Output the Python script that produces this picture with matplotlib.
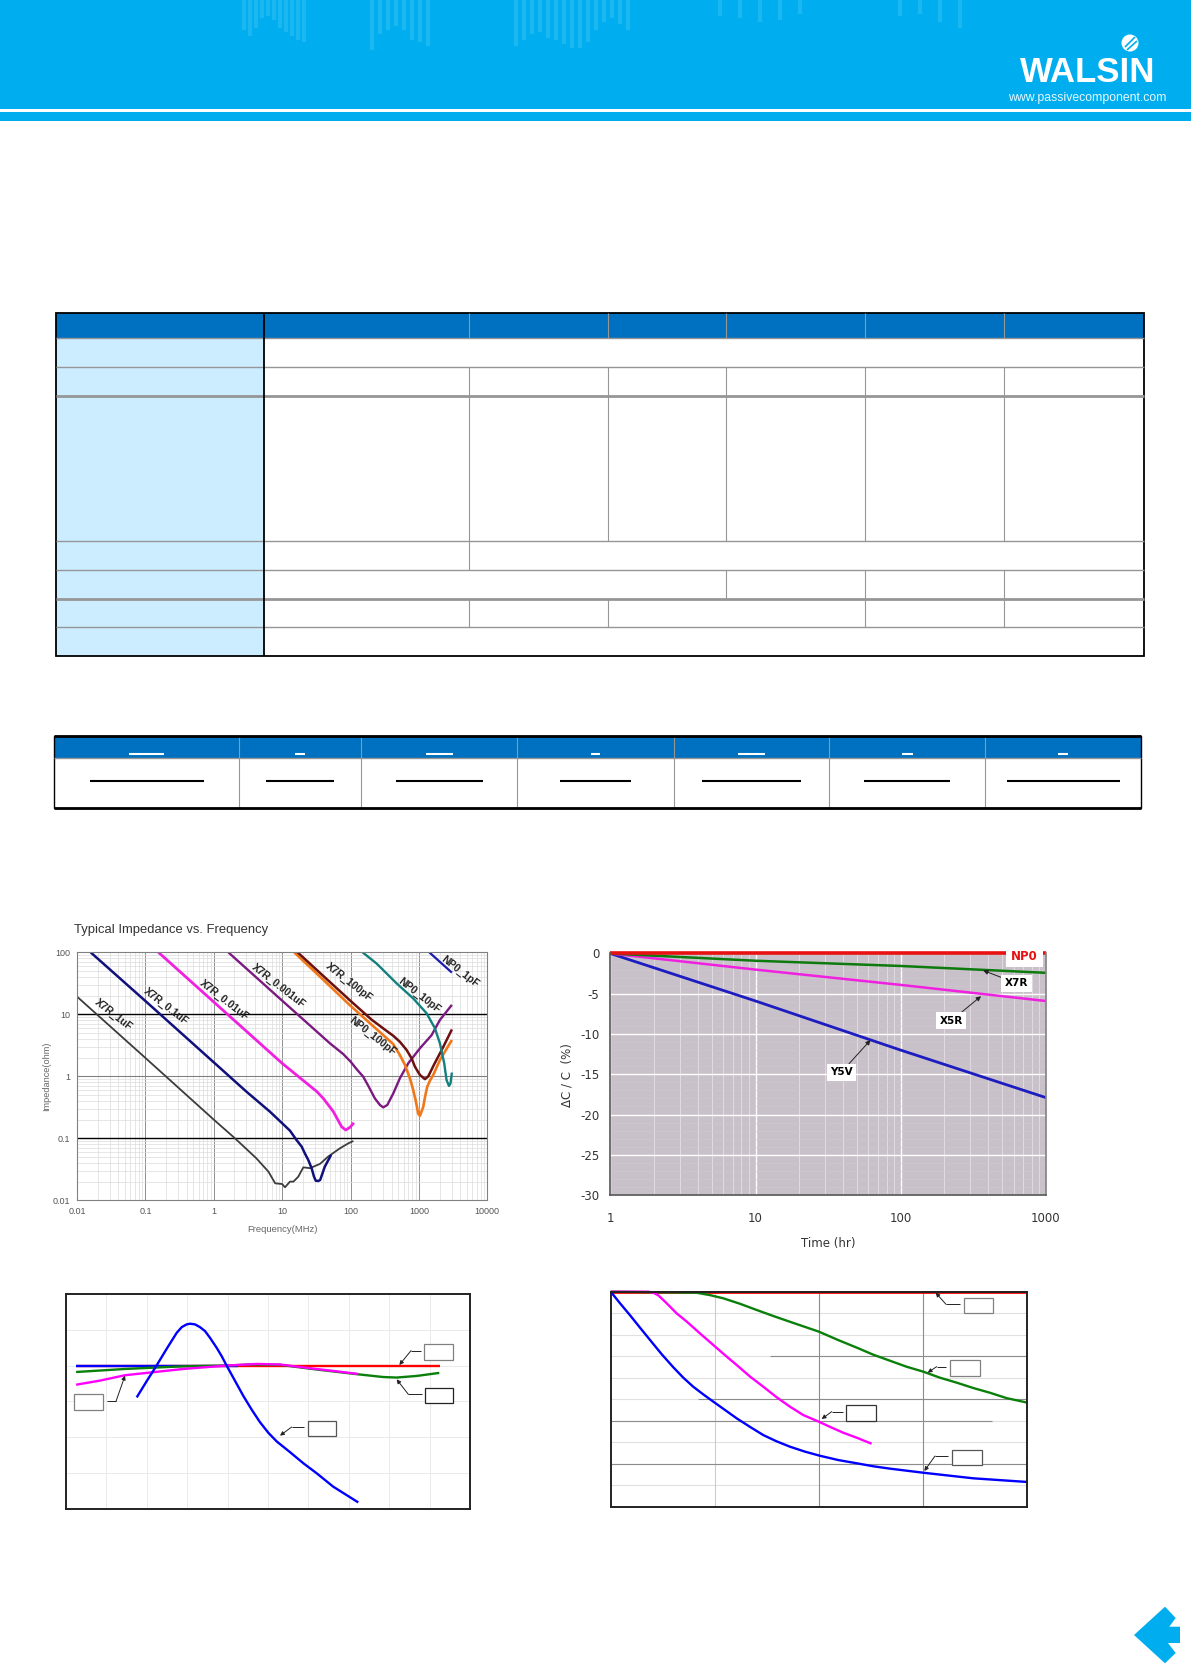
import numpy as np
import matplotlib
matplotlib.use('Agg')
import matplotlib.pyplot as plt
from matplotlib.patches import Rectangle, Polygon, Circle
from matplotlib.ticker import LogLocator, NullFormatter, FixedLocator

W, H = 1191, 1664
plt.rcParams['font.family'] = ['Liberation Sans', 'DejaVu Sans']
plt.rcParams['axes.unicode_minus'] = False
plt.rcParams['lines.solid_capstyle'] = 'butt'
plt.rcParams['lines.solid_joinstyle'] = 'round'

# === Impedance vs frequency (MHz, ohm) ===
f_1uf = [0.01, 0.1, 1.0, 2.04, 4.2, 6.3, 7.9, 10, 11, 13, 14.6, 17.2, 20.4, 25.5, 35.7, 47, 70, 93, 110]
z_1uf = [19.3, 1.98, 0.2, 0.1, 0.0475, 0.029, 0.0188, 0.0183, 0.0162, 0.02, 0.02, 0.024, 0.034, 0.033, 0.0386, 0.0506, 0.069, 0.083, 0.0906]
f_01uf = [0.0158, 0.1, 1, 3.0, 6.6, 10, 13, 16.2, 19.3, 21.5, 24.1, 27, 29.2, 31, 33.8, 36, 42, 52]
z_01uf = [100, 16.4, 1.68, 0.566, 0.27, 0.175, 0.133, 0.094, 0.0734, 0.057, 0.0447, 0.0328, 0.0241, 0.0207, 0.0205, 0.0213, 0.0348, 0.054]
f_001uf = [0.155, 1, 10, 16.2, 32, 40, 56, 74, 85, 98, 112]
z_001uf = [100, 15.8, 1.62, 1.05, 0.57, 0.44, 0.27, 0.154, 0.136, 0.15, 0.178]
f_0001uf = [1.63, 10, 50, 78, 100, 123, 153, 182, 227, 269, 301, 345, 422, 527, 698, 1035, 1530, 2028, 3035]
z_0001uf = [100, 16.6, 3.4, 2.29, 1.73, 1.3, 0.99, 0.7, 0.44, 0.345, 0.315, 0.345, 0.53, 0.93, 1.62, 2.83, 4.6, 8.1, 14.2]
f_x100p = [16.8, 40, 98, 203, 302, 422, 527, 660, 782, 874, 1035, 1225, 1371, 1656, 2218, 3035]
z_x100p = [100, 41.5, 16.8, 8.2, 5.9, 4.5, 3.6, 2.66, 1.95, 1.43, 1.05, 0.9, 1.0, 1.53, 2.83, 5.7]
f_n100p = [15, 40, 98, 203, 302, 422, 527, 624, 738, 826, 904, 977, 1035, 1156, 1235, 1324, 1450, 1620, 2028, 3035]
z_n100p = [100, 36, 14, 6.8, 4.6, 3.3, 2.2, 1.53, 0.93, 0.6, 0.39, 0.25, 0.23, 0.32, 0.48, 0.68, 0.85, 1.05, 1.83, 3.85]
f_n10p = [150, 240, 471, 826, 1294, 1714, 2028, 2344, 2537, 2748, 2900, 3035]
z_n10p = [100, 66, 31.6, 18, 10.4, 5.95, 3.4, 1.62, 0.87, 0.7, 0.77, 1.15]
f_n1p = [1416, 3035]
z_n1p = [100, 47]

imp_labels = ['X7R_1uF', 'X7R_0.1uF', 'X7R_0.01uF', 'X7R_0.001uF', 'X7R_100pF', 'NP0_100pF', 'NP0_10pF', 'NP0_1pF']
imp_label_f = [0.034, 0.2, 1.41, 8.8, 96, 208, 1011, 3980]
imp_label_z = [9.75, 13.6, 16.6, 28.6, 33, 4.47, 19.8, 48.8]
dec_ticks = [0.01, 0.1, 1, 10, 100, 1000, 10000]
dec_labels = ['0.01', '0.1', '1', '10', '100', '1000', '10000']
z_ticks = [0.01, 0.1, 1, 10, 100]
z_labels = ['0.01', '0.1', '1', '10', '100']

# === Aging (hr, %) ===
t_age = [1, 10, 100, 1000]
age_np0 = [0, 0, 0, 0]
age_x7r = [0, -0.9, -1.55, -2.4]
age_x5r = [0, -2.0, -3.9, -5.9]
age_y5v = [0, -5.9, -12.0, -17.9]
age_ticks = [0, -5, -10, -15, -20, -25, -30]

# === Temperature characteristic (unlabelled in the source) ===
tc_np0_x = [-55, 125]
tc_np0_y = [0, 0]
tc_low_x = [-55, 25]
tc_low_y = [0, 0]
tc_x7r_x = [-55, -30.8, -1.9, 19.5, 31, 46, 64, 84.7, 97, 103.7, 113.6, 124.8]
tc_x7r_y = [-3.6, -1.9, -0.4, 0, 0.6, 0.4, -2.2, -4.9, -6.4, -6.7, -5.8, -4.1]
tc_x5r_x = [-55, -43.2, -30.8, -16.8, -1.9, 19.5, 34.4, 46, 60.8, 72.3, 84.7]
tc_x5r_y = [-10.7, -8.4, -5.4, -3.7, -1.9, 0, 0.9, 0.6, -1.5, -3, -4.7]
tc_y5v_x = [-25, -20.1, -15.4, -10.2, -5.2, -2.7, -0.3, 1.4, 3.9, 6.3, 8.8, 11.3, 14.6, 17.1, 19.5, 23.7,
            27.8, 31.9, 36, 40.2, 44.3, 50.9, 57.5, 64.1, 72.3, 84.7]
tc_y5v_y = [-17.8, -8.8, -0.4, 9.3, 18.3, 21.5, 23, 23.4, 23, 21.5, 19.3, 15.5, 9.9, 5.2, 0, -8.6,
            -17, -24.6, -31.6, -37.6, -42.4, -48.4, -54.6, -60.2, -67.7, -76.5]

# === Fourth chart, log x (unlabelled in the source) ===
d_np0_x = [1, 10000]
d_np0_y = [0, 0]
d_y5v_x = [1, 1.23, 1.53, 1.91, 2.39, 3.09, 4.0, 4.98, 6.2, 7.76, 9.7, 12.5, 16.2, 21.8, 29.2, 39.2, 52.7,
           73.4, 102, 153, 230, 332, 480, 1004, 3030, 10000]
d_y5v_y = [0, -5.4, -10.9, -16.7, -22.5, -29.1, -35.2, -40, -44.2, -47.8, -51.2, -55, -58.9, -62.9, -66.7, -69.6, -72.1,
           -74.4, -76.3, -78.3, -79.8, -81.2, -82.3, -84.2, -86.8, -88.5]
d_x5r_x = [1, 2.3, 2.57, 2.87, 3.45, 4.3, 5.37, 7.2, 10.1, 12.5, 16.2, 21.8, 29.2, 39.2, 52.7, 70.8, 100, 128, 171, 230, 320]
d_x5r_y = [0, 0, -0.5, -1.7, -5.4, -10.1, -13.9, -19.4, -25.6, -29.5, -34.1, -39.5, -44.2, -49.1, -53.5, -57.4, -60.5, -62.9, -65.6, -67.9, -70.7]
d_x7r_x = [1, 6.7, 9, 12.1, 17.4, 25.2, 36.4, 52.7, 100, 153, 230, 332, 480, 694, 1004, 1450, 2097, 3030, 4380, 6330, 10000]
d_x7r_y = [0, -0.5, -1.6, -3.1, -5.6, -8.5, -11.3, -14, -18.6, -22.5, -26, -29.3, -32.1, -34.9, -37.2, -40, -42.3, -44.8, -47, -49.5, -51.6]

# header texture, read by eye
tex_x = [244, 250, 256, 262, 268, 274, 280, 286, 292, 298, 304, 372, 380, 388, 396, 404, 412, 420, 428,
         516, 524, 532, 540, 548, 556, 564, 572, 580, 588, 596, 604, 612, 620, 628, 720, 740, 760, 780, 800,
         900, 920, 940, 960]
tex_h = [30, 36, 28, 18, 16, 20, 28, 32, 36, 40, 42, 50, 34, 30, 26, 30, 40, 42, 46,
         46, 40, 34, 32, 38, 40, 44, 48, 48, 42, 30, 22, 18, 24, 30, 16, 18, 22, 20, 14,
         16, 14, 22, 28]


def axes_px(fig, l, t, r, b):
    return fig.add_axes([l / W, 1 - b / H, (r - l) / W, (b - t) / H])


fig = plt.figure(figsize=(W / 100, H / 100), dpi=100, facecolor='white')

# page overlay in pixel coordinates, for header, tables and callouts
ov = fig.add_axes([0, 0, 1, 1], zorder=5)
ov.set_xlim(0, W)
ov.set_ylim(H, 0)
ov.axis('off')

# === Header ===
ov.add_patch(Rectangle((0, 0), W, 120.5, fc='#00AEEF', ec='none'))
ov.vlines(tex_x, 0, tex_h, color='#3CC3F3', lw=3, alpha=0.45)
ov.add_patch(Rectangle((0, 108.5), W, 3.5, fc='white', ec='none'))
ov.add_patch(Circle((1130, 43), 8.5, fc='white', ec='none'))
ov.plot([1125, 1135], [47, 37], color='#00AEEF', lw=1.2)
ov.plot([1127, 1137], [50, 41], color='#00AEEF', lw=1.2)
ov.text(1087.5, 73, 'WALSIN', color='white', fontsize=25, fontweight='bold', ha='center', va='center')
ov.text(1087.5, 98.5, 'www.passivecomponent.com', color='#E8F8FF', fontsize=8.8, ha='center', va='center')

# === Spec table ===
GRAY = '#969696'
col_x = [55.7, 263.6, 468.6, 607.9, 726.4, 865, 1004.3, 1143.6]
row_y = [312.7, 338.3, 367.3, 396, 541.3, 570.3, 599, 627.3, 656.3]
ov.add_patch(Rectangle((col_x[0], row_y[0]), col_x[-1] - col_x[0], row_y[1] - row_y[0], fc='#0070C0', ec='none'))
ov.add_patch(Rectangle((col_x[0], row_y[1]), col_x[1] - col_x[0], row_y[-1] - row_y[1], fc='#CCECFF', ec='none'))
for i in range(1, 8):
    lw = 2.0 if i in (3, 6) else 1.0
    ov.plot([col_x[0], col_x[-1]], [row_y[i], row_y[i]], color=GRAY, lw=lw)
splits = [
    (0, 1, [2, 3, 4, 5, 6]),
    (2, 3, [2, 3, 4, 5, 6]),
    (3, 4, [2, 3, 4, 5, 6]),
    (4, 5, [2]),
    (5, 6, [4, 5, 6]),
    (6, 7, [2, 3, 5, 6]),
]
for r0, r1, cols in splits:
    for c in cols:
        ov.plot([col_x[c], col_x[c]], [row_y[r0], row_y[r1]], color=GRAY, lw=0.8)
ov.plot([col_x[1], col_x[1]], [row_y[0], row_y[-1]], color='black', lw=1.3)
ov.add_patch(Rectangle((col_x[0], row_y[0]), col_x[-1] - col_x[0], row_y[-1] - row_y[0], fc='none', ec='black', lw=1.3))

# === Second table ===
col2_x = [54.3, 238.6, 361.4, 517, 673.6, 829.3, 985, 1141.4]
ov.add_patch(Rectangle((col2_x[0], 735.7), col2_x[-1] - col2_x[0], 22.6, fc='#0070C0', ec='none'))
ov.plot([col2_x[0], col2_x[-1]], [758.3, 758.3], color=GRAY, lw=1.0)
for c in col2_x[1:-1]:
    ov.plot([c, c], [735.7, 807.7], color=GRAY, lw=0.8)
ov.add_patch(Rectangle((col2_x[0], 735.7), col2_x[-1] - col2_x[0], 72, fc='none', ec='black', lw=1.0))
ov.plot([col2_x[0], col2_x[-1]], [735.7, 735.7], color='black', lw=2.0)
ov.plot([col2_x[0], col2_x[-1]], [807.7, 807.7], color='black', lw=2.0)
head_bars = [(129, 164), (295, 305), (426, 453), (591, 600), (738, 765), (902, 913), (1058, 1068)]
body_bars = [(90, 204), (266, 334), (396, 483), (560, 631), (702, 801), (864, 950), (1007, 1120)]
for a, b in head_bars:
    ov.plot([a, b], [754, 754], color='white', lw=1.5)
for a, b in body_bars:
    ov.plot([a, b], [781, 781], color='black', lw=1.5)

# === Impedance chart ===
ax1 = axes_px(fig, 77, 952.3, 487.3, 1200.3)
ax1.set_xscale('log')
ax1.set_yscale('log')
ax1.set_xlim(0.01, 10000)
ax1.set_ylim(0.01, 100)
ax1.xaxis.set_minor_locator(LogLocator(base=10, subs=range(2, 10), numticks=12))
ax1.yaxis.set_minor_locator(LogLocator(base=10, subs=range(2, 10), numticks=12))
ax1.xaxis.set_minor_formatter(NullFormatter())
ax1.yaxis.set_minor_formatter(NullFormatter())
ax1.xaxis.set_major_locator(FixedLocator(dec_ticks))
ax1.yaxis.set_major_locator(FixedLocator(z_ticks))
ax1.set_xticklabels(dec_labels)
ax1.set_yticklabels(z_labels)
ax1.tick_params(which='both', length=0, labelsize=6.5, labelcolor='#555555', pad=5)
ax1.grid(which='minor', color='#DCDCDC', lw=0.5)
ax1.grid(which='major', axis='x', color='#909090', lw=0.7)
ax1.axhline(1, color='#808080', lw=0.8, zorder=1)
ax1.axhline(10, color='black', lw=1.0, zorder=1)
ax1.axhline(0.1, color='black', lw=1.0, zorder=1)
ax1.set_axisbelow(True)
for s in ax1.spines.values():
    s.set_color('#808080')
    s.set_linewidth(0.8)
ax1.plot(f_1uf, z_1uf, color='#3C3C3C', lw=1.3)
ax1.plot(f_01uf, z_01uf, color='#10107C', lw=1.8)
ax1.plot(f_001uf, z_001uf, color='#F020E0', lw=2.0)
ax1.plot(f_0001uf, z_0001uf, color='#7A1A80', lw=1.7)
ax1.plot(f_n100p, z_n100p, color='#F07818', lw=1.9)
ax1.plot(f_x100p, z_x100p, color='#6C1010', lw=1.8)
ax1.plot(f_n10p, z_n10p, color='#138080', lw=1.7)
ax1.plot(f_n1p, z_n1p, color='#1A1AB0', lw=1.6)
for lab, fx, zy in zip(imp_labels, imp_label_f, imp_label_z):
    ax1.text(fx, zy, lab, rotation=-38, rotation_mode='anchor', ha='center', va='center',
             fontsize=7.5, fontweight='bold', color='#222222', clip_on=False, zorder=6)
ax1.set_xlabel('Frequency(MHz)', fontsize=6.8, color='#666666', labelpad=6)
ax1.set_ylabel('Impedance(ohm)', fontsize=6.6, color='#666666', labelpad=1)
ov.text(74, 930, 'Typical Impedance vs. Frequency', fontsize=9.4, color='#333333', ha='left', va='center')

# === Aging chart ===
ax2 = axes_px(fig, 610.4, 953.5, 1045.8, 1195)
ax2.set_xscale('log')
ax2.set_xlim(1, 1000)
ax2.set_ylim(-30, 0)
ax2.set_facecolor('#C9C1C9')
ax2.xaxis.set_minor_locator(LogLocator(base=10, subs=range(2, 10), numticks=12))
ax2.xaxis.set_minor_formatter(NullFormatter())
ax2.xaxis.set_major_locator(FixedLocator(t_age))
ax2.set_xticklabels([str(v) for v in t_age], family='DejaVu Sans')
ax2.set_yticks(age_ticks)
ax2.set_yticklabels([str(v) for v in age_ticks], family='DejaVu Sans')
ax2.set_yticks(np.arange(-30, 0, 1), minor=True)
ax2.tick_params(which='both', length=0, labelsize=8.5, labelcolor='#333333', pad=12)
ax2.tick_params(axis='y', pad=8)
ax2.tick_params(axis='y', which='minor', labelleft=False)
ax2.grid(which='major', color='white', lw=1.0)
ax2.grid(which='minor', axis='x', color='#E6E1E6', lw=0.6)
ax2.grid(which='minor', axis='y', color='#CFC9CF', lw=0.4)
ax2.set_axisbelow(True)
ax2.spines['top'].set_visible(False)
ax2.spines['left'].set_color('#555555')
ax2.spines['bottom'].set_color('#555555')
ax2.spines['right'].set_color('#808080')
for s in ('left', 'bottom', 'right'):
    ax2.spines[s].set_linewidth(1.2)
ax2.plot(t_age, age_y5v, color='#1C1CC0', lw=2.0, clip_on=False)
ax2.plot(t_age, age_x5r, color='#F020E0', lw=1.8, clip_on=False)
ax2.plot(t_age, age_x7r, color='#0C7A0C', lw=1.8, clip_on=False)
ax2.plot(t_age, age_np0, color='#E81010', lw=2.6, clip_on=False)
box = dict(fc='white', ec='none', pad=2.5)
ax2.text(713, -0.33, 'NP0', color='#E81010', fontsize=8.5, fontweight='bold', ha='center', va='center',
         family='DejaVu Sans', bbox=dict(fc='white', ec='none', pad=3.5), zorder=6)
arrow = dict(arrowstyle='-|>', color='#222222', lw=0.7, mutation_scale=7, shrinkA=0, shrinkB=0)
ax2.annotate('X7R', xy=(370, -2.1), xytext=(628, -3.7), fontsize=7.5, fontweight='bold', ha='center', va='center',
             family='DejaVu Sans', bbox=box, arrowprops=arrow)
ax2.annotate('X5R', xy=(358, -5.3), xytext=(223, -8.35), fontsize=7.5, fontweight='bold', ha='center', va='center',
             family='DejaVu Sans', bbox=box, arrowprops=arrow)
ax2.annotate('Y5V', xy=(62, -10.75), xytext=(39, -14.75), fontsize=7.5, fontweight='bold', ha='center', va='center',
             family='DejaVu Sans', bbox=box, arrowprops=arrow)
ov.text(828, 1243, 'Time (hr)', fontsize=8.5, color='#333333', ha='center', va='center', family='DejaVu Sans')
ov.text(567, 1075, '\u0394C / C  (%)', fontsize=8.5, color='#333333', rotation=90, ha='center', va='center', family='DejaVu Sans')

# === Temperature chart, no labels ===
ax3 = axes_px(fig, 66, 1294, 470, 1508.7)
ax3.set_xlim(-60, 140)
ax3.set_ylim(-80, 40)
ax3.set_xticks(np.arange(-40, 140, 20))
ax3.set_yticks(np.arange(-60, 40, 20))
ax3.tick_params(length=0, labelbottom=False, labelleft=False)
ax3.grid(color='#EAEAEA', lw=0.7)
ax3.set_axisbelow(True)
for s in ax3.spines.values():
    s.set_color('#222222')
    s.set_linewidth(1.4)
ax3.plot(tc_np0_x, tc_np0_y, color='#FF0000', lw=1.7)
ax3.plot(tc_low_x, tc_low_y, color='#0000FF', lw=1.7)
ax3.plot(tc_x7r_x, tc_x7r_y, color='#0A800A', lw=1.7)
ax3.plot(tc_x5r_x, tc_x5r_y, color='#FF00FF', lw=1.7)
ax3.plot(tc_y5v_x, tc_y5v_y, color='#0000FF', lw=1.7)

# === Fourth chart, no labels ===
ax4 = axes_px(fig, 610.7, 1291.7, 1027.3, 1506.7)
ax4.set_xscale('log')
ax4.set_xlim(1, 10000)
ax4.set_ylim(-100, 0)
ax4.xaxis.set_major_locator(FixedLocator([10, 100, 1000]))
ax4.xaxis.set_minor_locator(FixedLocator([]))
ax4.set_yticks(np.arange(-90, 0, 10))
ax4.tick_params(length=0, labelbottom=False, labelleft=False)
ax4.grid(axis='y', color='#E0E0E0', lw=0.8)
ax4.axvline(10, color='#CCCCCC', lw=0.8)
ax4.axvline(100, color='#8C8C8C', lw=0.8)
ax4.axvline(1000, color='#8C8C8C', lw=0.8)
ax4.hlines(-30, 34, 10000, color='#8C8C8C', lw=0.8)
ax4.hlines(-50, 6.94, 10000, color='#8C8C8C', lw=0.8)
ax4.hlines(-60, 1, 4545, color='#8C8C8C', lw=0.8)
ax4.hlines(-80, 1, 10000, color='#8C8C8C', lw=0.8)
ax4.set_axisbelow(True)
for s in ax4.spines.values():
    s.set_color('#222222')
    s.set_linewidth(1.4)
ax4.plot(d_np0_x, d_np0_y, color='#FF0000', lw=2.0, clip_on=False)
ax4.plot(d_x7r_x, d_x7r_y, color='#0A800A', lw=1.7, clip_on=False)
ax4.plot(d_x5r_x, d_x5r_y, color='#FF00FF', lw=1.7, clip_on=False)
ax4.plot(d_y5v_x, d_y5v_y, color='#0000FF', lw=1.7, clip_on=False)


# === Empty callout boxes ===
def callout(x0, y0, rect, elbow, tip, ec):
    l, t, r, b = rect
    ov.add_patch(Rectangle((x0 + l / 3, y0 + t / 3), (r - l) / 3, (b - t) / 3, fc='white', ec=ec, lw=0.9))
    px = [x0 + p[0] / 3 for p in elbow]
    py = [y0 + p[1] / 3 for p in elbow]
    ov.plot(px, py, color='#222222', lw=0.7)
    ov.annotate('', xy=(x0 + tip[0] / 3, y0 + tip[1] / 3), xytext=(px[-1], py[-1]),
                arrowprops=dict(arrowstyle='-|>', color='#222222', lw=0.7, mutation_scale=6, shrinkA=0, shrinkB=0))


callout(50, 1280, (1122, 193, 1210, 240), [(1112, 212), (1083, 212)], (1048, 255), '#808080')
callout(50, 1280, (1125, 323, 1210, 370), [(1115, 343), (1075, 343)], (1040, 298), '#222222')
callout(50, 1280, (73, 343, 160, 391), [(172, 364), (198, 364)], (225, 287), '#808080')
callout(50, 1280, (773, 422, 859, 469), [(762, 441), (725, 441)], (690, 467), '#555555')
callout(590, 1280, (1121, 53, 1210, 100), [(1110, 73), (1068, 73)], (1037, 38), '#808080')
callout(590, 1280, (1081, 241, 1171, 288), [(1068, 260), (1040, 260)], (1013, 278), '#808080')
callout(590, 1280, (769, 376, 859, 422), [(758, 395), (725, 395)], (695, 417), '#333333')
callout(590, 1280, (1087, 509, 1177, 556), [(1075, 528), (1035, 528)], (1003, 573), '#555555')

# === Page arrow ===
arrow_pts = [(1134, 1635), (1165, 1606.7), (1175.7, 1618), (1169.3, 1626.7), (1180, 1626.7),
             (1180, 1643), (1168, 1643), (1175.7, 1653), (1165, 1663.3)]
ov.add_patch(Polygon(arrow_pts, closed=True, fc='#00AEEF', ec='none'))

fig.savefig('out.png', dpi=100)
